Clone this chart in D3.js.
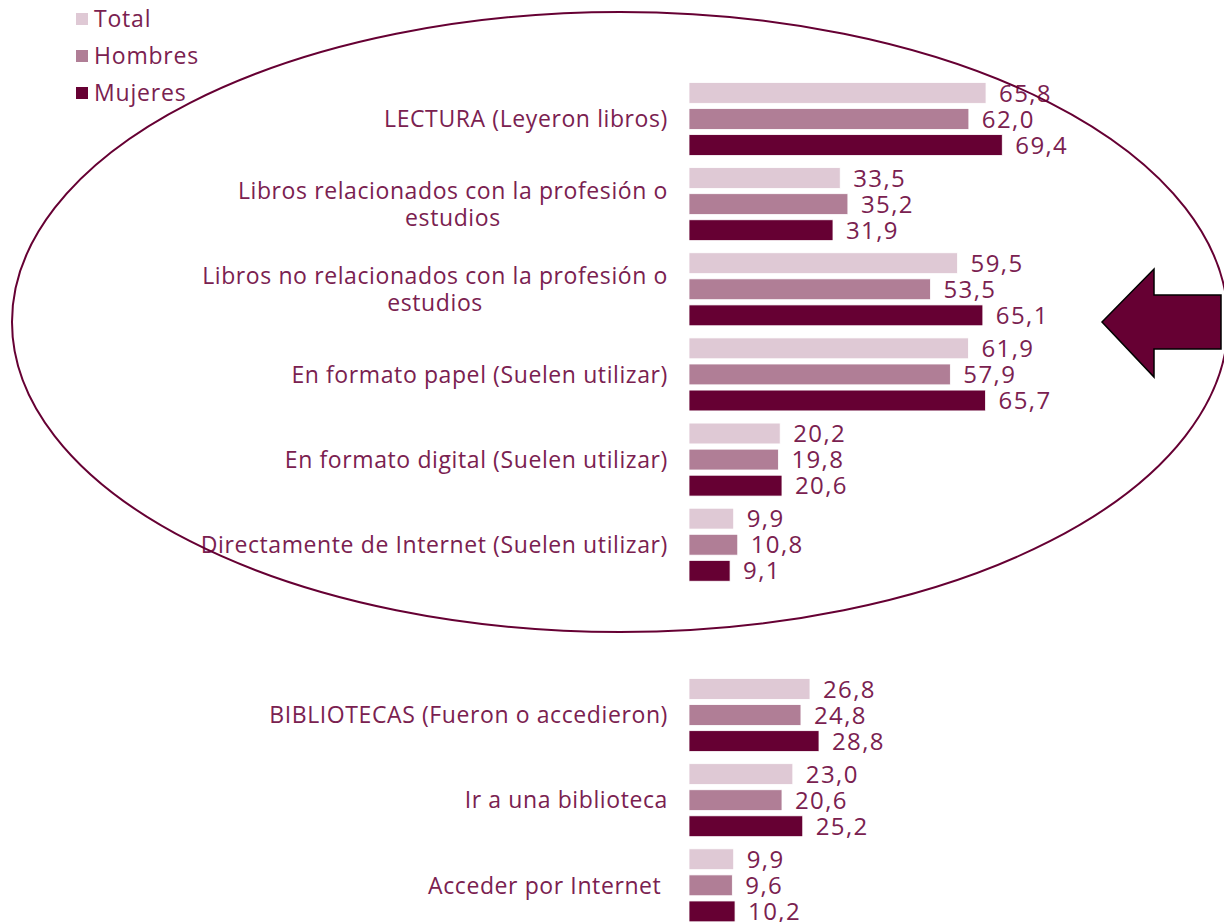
<!DOCTYPE html>
<html>
<head>
<meta charset="utf-8">
<script src="https://cdn.jsdelivr.net/npm/d3@7"></script>
<style>
  body { margin: 0; background: #fff; }
  svg { display: block; font-family: "Open Sans", sans-serif; }
  text.cat { white-space: pre; }
</style>
</head>
<body>
<svg width="1224" height="922"></svg>
<script>
const width = 1224;
const height = 922;

// categories ("" = empty slot between the two blocks)
const categories = [
  "LECTURA (Leyeron libros)",
  "Libros relacionados con la profesión o\nestudios",
  "Libros no relacionados con la profesión o\nestudios",
  "En formato papel (Suelen utilizar)",
  "En formato digital (Suelen utilizar)",
  "Directamente de Internet (Suelen utilizar)",
  "",
  "BIBLIOTECAS (Fueron o accedieron)",
  "Ir a una biblioteca",
  "Acceder por Internet ",
];
const seriesNames = ["Total", "Hombres", "Mujeres"];
const total = [65.8, 33.5, 59.5, 61.9, 20.2, 9.9, null, 26.8, 23.0, 9.9];
const hombres = [62.0, 35.2, 53.5, 57.9, 19.8, 10.8, null, 24.8, 20.6, 9.6];
const mujeres = [69.4, 31.9, 65.1, 65.7, 20.6, 9.1, null, 28.8, 25.2, 10.2];
const seriesColors = ["#dfc9d5", "#b07e96", "#660033"];
const textColor = "#7a2150";

const seriesValues = [total, hombres, mujeres];

const svg = d3.select("svg");

const xScale = d3.scaleLinear().domain([0, 100]).range([689, 1140.4]);
const yScale = d3
  .scaleBand()
  .domain(d3.range(categories.length))
  .range([76.4, 927.9])
  .paddingInner(0)
  .paddingOuter(0);
const inner = d3
  .scaleBand()
  .domain(seriesNames)
  .range([-36.5, 36.5])
  .paddingInner(0.2)
  .paddingOuter(0);

// flat data for bars
const bars = [];
categories.forEach((c, i) => {
  seriesNames.forEach((s, j) => {
    const v = seriesValues[j][i];
    if (v != null) bars.push({ cat: i, series: s, si: j, value: v });
  });
});

const chart = svg.append("g");

chart
  .selectAll("rect.bar")
  .data(bars)
  .enter()
  .append("rect")
  .attr("class", "bar")
  .attr("x", xScale(0))
  .attr("y", (d) => yScale(d.cat) + yScale.bandwidth() / 2 + inner(d.series))
  .attr("width", (d) => xScale(d.value) - xScale(0))
  .attr("height", inner.bandwidth())
  .attr("fill", (d) => seriesColors[d.si])
  .attr("stroke", "#ffffff")
  .attr("stroke-width", 0.8);

const fmt = (v) => v.toFixed(1).replace(".", ",");

chart
  .selectAll("text.val")
  .data(bars)
  .enter()
  .append("text")
  .attr("class", "val")
  .attr("x", (d) => xScale(d.value) + 13)
  .attr(
    "y",
    (d) =>
      yScale(d.cat) + yScale.bandwidth() / 2 + inner(d.series) + inner.bandwidth() / 2
  )
  .attr("dy", "0.36em")
  .attr("font-size", 24)
  .attr("letter-spacing", 1.4)
  .attr("fill", textColor)
  .text((d) => fmt(d.value));

// category labels, wrapped lines centred within a right-aligned block
const labelRight = 668;
const lineH = 27;
categories.forEach((c, i) => {
  if (!c) return;
  const lines = c.split("\n");
  const cy = yScale(i) + yScale.bandwidth() / 2;
  const g = chart.append("g");
  const texts = lines.map((ln, k) =>
    g
      .append("text")
      .attr("class", "cat")
      .attr("y", cy + (k - (lines.length - 1) / 2) * lineH)
      .attr("dy", "0.36em")
      .attr("font-size", 23)
      .attr("letter-spacing", 0.6)
      .attr("fill", textColor)
      .text(ln)
  );
  const widths = texts.map((t) => t.node().getComputedTextLength());
  const maxW = d3.max(widths);
  const center = labelRight - maxW / 2;
  texts.forEach((t) => t.attr("x", center).attr("text-anchor", "middle"));
});

// legend
const legend = svg.append("g");
seriesNames.forEach((s, j) => {
  const ly = 19 + j * 37;
  legend
    .append("rect")
    .attr("x", 76)
    .attr("y", ly - 6)
    .attr("width", 12)
    .attr("height", 12)
    .attr("fill", seriesColors[j]);
  legend
    .append("text")
    .attr("x", 94)
    .attr("y", ly)
    .attr("dy", "0.36em")
    .attr("font-size", 23)
    .attr("letter-spacing", 0.8)
    .attr("fill", textColor)
    .text(s);
});

// ellipse annotation
svg
  .append("ellipse")
  .attr("cx", 620)
  .attr("cy", 322)
  .attr("rx", 608)
  .attr("ry", 310)
  .attr("fill", "none")
  .attr("stroke", "#660033")
  .attr("stroke-width", 2);

// arrow
const arrowPts = [
  [1102, 322],
  [1154, 269],
  [1154, 295],
  [1221, 295],
  [1221, 349],
  [1154, 349],
  [1154, 377],
];
svg
  .append("polygon")
  .attr("points", arrowPts.map((p) => p.join(",")).join(" "))
  .attr("fill", "#660033")
  .attr("stroke", "#000")
  .attr("stroke-width", 1.5);
</script>
</body>
</html>
